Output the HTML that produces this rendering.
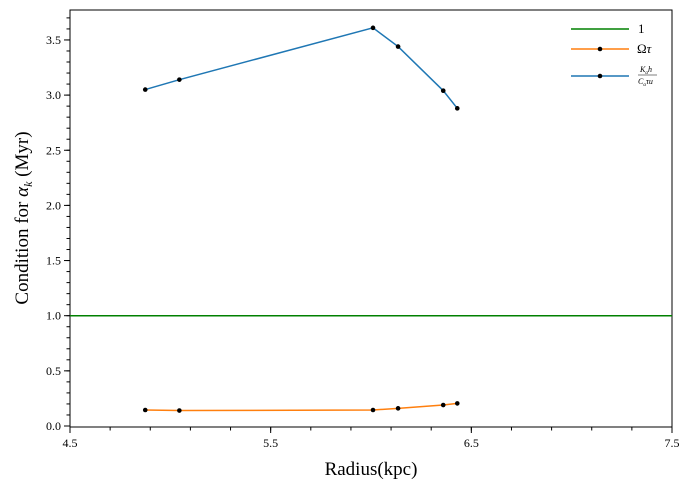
<!DOCTYPE html>
<html><head><meta charset="utf-8"><style>
body{margin:0;background:#fff}
text{font-family:"Liberation Serif",serif;fill:#000}
</style></head><body>
<svg id="chart" width="690" height="490" xmlns="http://www.w3.org/2000/svg"></svg>
<script>
const radius=[4.875,5.045,6.01,6.135,6.36,6.43];
const condBlue=[3.05,3.14,3.61,3.44,3.04,2.88];
const omegaTau=[0.145,0.14,0.145,0.16,0.19,0.205];
const refLine=1;
const xTicks=[4.5,5.5,6.5,7.5];
const yTicks=[0.0,0.5,1.0,1.5,2.0,2.5,3.0,3.5];
const L=70,R=672,T=10,B=427;
const xs=v=>L+(v-4.5)*(R-L)/3;
const ys=v=>426-v*110.3;
const svg=document.getElementById('chart');
const NS='http://www.w3.org/2000/svg';
function mk(tag,at,parent){const e=document.createElementNS(NS,tag);for(const k in at)e.setAttribute(k,at[k]);(parent||svg).appendChild(e);return e;}
let f=mk('rect',{x:L,y:T,width:R-L,height:B-T,fill:'none',stroke:'#000','stroke-width':1});


for(let v=4.5;v<=7.5001;v+=0.2){const x=xs(v);let t=mk('line',{x1:x,x2:x,y1:B,y2:B+3.5,stroke:'#000'});

}
for(let v=0;v<=3.75;v+=0.1){const y=ys(v);let t=mk('line',{x1:L,x2:L-3.5,y1:y,y2:y,stroke:'#000'});

}
xTicks.forEach(v=>{const x=xs(v);let t=mk('line',{x1:x,x2:x,y1:B,y2:B+6,stroke:'#000'});


let l=mk('text',{x:x,y:B+20,'text-anchor':'middle','font-size':12});l.textContent=v.toFixed(1);

});
yTicks.forEach(v=>{const y=ys(v);let t=mk('line',{x1:L,x2:L-6,y1:y,y2:y,stroke:'#000'});


let l=mk('text',{x:L-9,y:y+4,'text-anchor':'end','font-size':12});l.textContent=v.toFixed(1);

});
let h=mk('line',{x1:L,x2:R,y1:ys(refLine),y2:ys(refLine),stroke:'#008000','stroke-width':1.5});


function series(vals,color,name){
 let p=mk('polyline',{points:radius.map((r,i)=>xs(r)+','+ys(vals[i])).join(' '),fill:'none',stroke:color,'stroke-width':1.5});
 
 
 radius.forEach((r,i)=>{let c=mk('circle',{cx:xs(r),cy:ys(vals[i]),r:2.3,fill:'#000'});
 
 });
}
series(omegaTau,'#ff7f0e','omega-tau');
series(condBlue,'#1f77b4','condition');
const lg=mk('g',{});


[[29,'#008000',false],[49,'#ff7f0e',true],[76,'#1f77b4',true]].forEach(([y,c,d])=>{
 let l=mk('line',{x1:571,x2:629,y1:y,y2:y,stroke:c,'stroke-width':1.5},lg);
 
 
 if(d){let k=mk('circle',{cx:600,cy:y,r:2.3,fill:'#000'},lg);
 
 }
});
let t1=mk('text',{x:638,y:33,'font-size':13},lg);t1.textContent='1';
let t2=mk('text',{x:637,y:53,'font-size':13},lg);t2.innerHTML='Ω<tspan font-style="italic">τ</tspan>';
let t3=mk('text',{x:640,y:72,'font-size':8,'font-style':'italic'},lg);t3.innerHTML='K<tspan font-size="5" dy="2">α</tspan><tspan dy="-2">h</tspan>';
mk('line',{x1:638,x2:657,y1:75,y2:75,stroke:'#000','stroke-width':0.6},lg);
let t4=mk('text',{x:638,y:84,'font-size':8,'font-style':'italic'},lg);t4.innerHTML='C<tspan font-size="5" dy="2">α</tspan><tspan dy="-2">τu</tspan>';
let xt=mk('text',{x:371,y:475,'text-anchor':'middle','font-size':19});xt.textContent='Radius(kpc)';


let yt=mk('text',{x:0,y:0,'text-anchor':'middle','font-size':19,transform:'translate(28,218) rotate(-90)'});
yt.innerHTML='Condition for <tspan font-style="italic">α</tspan><tspan font-size="12" font-style="italic" dy="4">k</tspan><tspan dy="-4"> (Myr)</tspan>';


</script>
</body></html>
